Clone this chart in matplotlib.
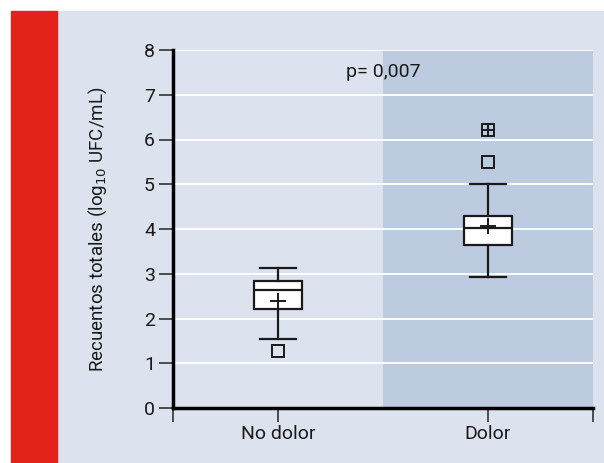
import matplotlib

matplotlib.use("Agg")
import matplotlib.pyplot as plt
from matplotlib.patches import Rectangle

plt.rcParams["font.family"] = ["Roboto", "DejaVu Sans"]

# box statistics (log10 UFC/mL)
groups = ["No dolor", "Dolor"]
positions = [1, 3]
whisker_low = [1.54, 2.92]
q1 = [2.21, 3.64]
median = [2.64, 4.02]
q3 = [2.84, 4.28]
whisker_high = [3.12, 5.00]
means = [2.40, 4.07]
outliers = [[1.27], [5.50, 6.21]]
extreme_plus = [[], [6.21]]  # outlier drawn as square with a cross inside

yticks = list(range(0, 9))
p_text = "p= 0,007"

BG = "#dce3ee"
SHADE = "#bccbdf"
RED = "#e2231a"
INK = "#1a1a1a"

fig = plt.figure(figsize=(6.04, 4.63), dpi=100)
fig.patches.append(Rectangle((57 / 604, 0), 1 - 57 / 604, 1 - 11 / 463,
                             transform=fig.transFigure, color=BG, zorder=-10))
fig.patches.append(Rectangle((11 / 604, 0), 46 / 604, 1 - 11 / 463,
                             transform=fig.transFigure, color=RED, zorder=-10))

ax = fig.add_axes([173 / 604, 1 - 408 / 463, 420 / 604, 358 / 463])
ax.set_facecolor(BG)
ax.set_xlim(0, 4)
ax.set_ylim(0, 8)
ax.axvspan(2, 4, color=SHADE, zorder=0, lw=0)
for y in yticks:
    ax.axhline(y, color="white", lw=1.4, zorder=1)

stats = []
for i, g in enumerate(groups):
    stats.append({
        "label": g, "whislo": whisker_low[i], "q1": q1[i], "med": median[i],
        "q3": q3[i], "whishi": whisker_high[i], "mean": means[i],
        "fliers": outliers[i],
    })

ax.bxp(stats, positions=positions, widths=0.46, showmeans=True,
       patch_artist=True, manage_ticks=False,
       boxprops=dict(facecolor="white", edgecolor=INK, lw=1.6),
       medianprops=dict(color=INK, lw=1.6),
       whiskerprops=dict(color=INK, lw=1.6),
       capprops=dict(color=INK, lw=1.6),
       capwidths=0.34,
       meanprops=dict(marker="+", markeredgecolor=INK, markersize=11,
                      markeredgewidth=1.4),
       flierprops=dict(marker="s", markerfacecolor="none",
                       markeredgecolor=INK, markersize=9,
                       markeredgewidth=1.4),
       zorder=3)
for pos, ys in zip(positions, extreme_plus):
    if ys:
        ax.plot([pos] * len(ys), ys, ls="none", marker="+", markersize=9,
                markeredgecolor=INK, markeredgewidth=1.4, zorder=4)

ax.text(2, 7.5, p_text, ha="center", va="center", fontsize=14, color=INK)

for s in ("top", "right"):
    ax.spines[s].set_visible(False)
for s in ("left", "bottom"):
    ax.spines[s].set_linewidth(2.5)
    ax.spines[s].set_color("black")
    ax.spines[s].set_zorder(5)

ax.set_yticks(yticks)
ax.set_xticks([0, 1, 3, 4])
ax.set_xticklabels(["", groups[0], groups[1], ""])
ax.tick_params(axis="both", direction="out", length=10, width=1.2,
               color="#333333", labelsize=14, labelcolor=INK)
ax.tick_params(axis="y", pad=3)
ax.tick_params(axis="x", pad=2)
ax.set_ylabel("Recuentos totales (log$_{10}$ UFC/mL)", fontsize=13.5,
              color=INK, labelpad=25)

fig.savefig("out.png", dpi=100)
